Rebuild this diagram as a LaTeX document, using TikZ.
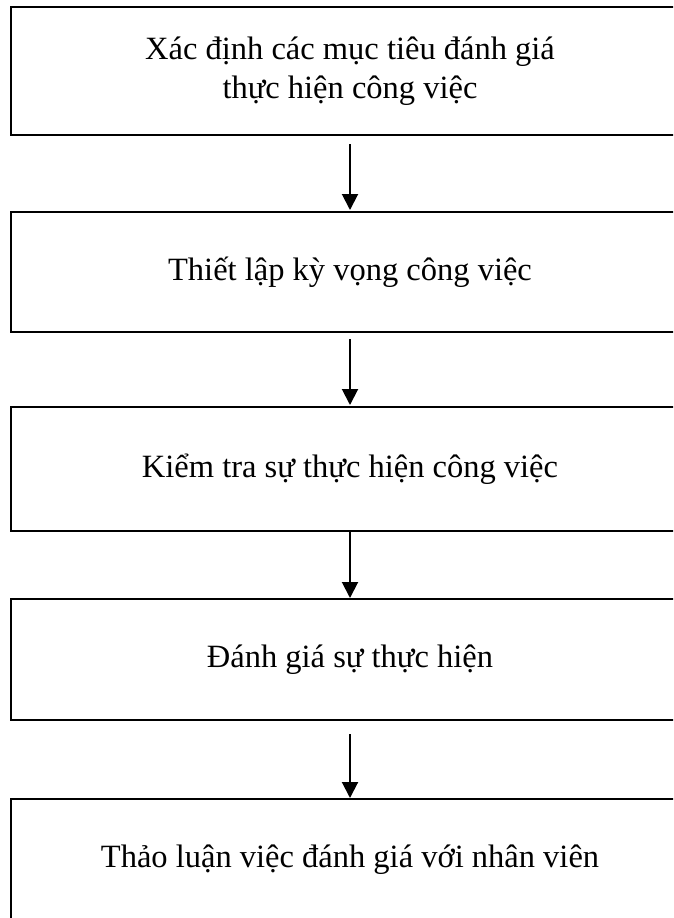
\documentclass[tikz,border=0pt]{standalone}
\usepackage{fontspec}
\setmainfont{Liberation Serif}
\usetikzlibrary{arrows.meta}
\begin{document}
\begin{tikzpicture}[x=1pt,y=-1pt,
  stepbox/.style={draw=black,line width=2pt,rectangle,minimum width=678pt,inner sep=0pt,
    font=\fontsize{32.5}{39}\selectfont,align=center},
  flow/.style={draw=black,line width=2pt,-{Triangle[width=16pt,length=16pt]}}]
\clip (0,0) rectangle (673,918);
\fill[white] (0,0) rectangle (673,918);
\node[stepbox,minimum height=128pt] (b1) at (350,71) {Xác định các mục tiêu đánh giá\\thực hiện công việc};
\node[stepbox,minimum height=120pt] (b2) at (350,272) {Thiết lập kỳ vọng công việc};
\node[stepbox,minimum height=124pt] (b3) at (350,469) {Kiểm tra sự thực hiện công việc};
\node[stepbox,minimum height=121pt] (b4) at (350,659.5) {Đánh giá sự thực hiện};
\node[stepbox,minimum height=121pt] (b5) at (350,859.5) {Thảo luận việc đánh giá với nhân viên};
\draw[flow,shorten <=8pt,shorten >=1pt] (b1.south) -- (b2.north);
\draw[flow,shorten <=6pt,shorten >=1pt] (b2.south) -- (b3.north);
\draw[flow,shorten >=0pt] (b3.south) -- (b4.north);
\draw[flow,shorten <=13pt,shorten >=0pt] (b4.south) -- (b5.north);
\end{tikzpicture}
\end{document}
